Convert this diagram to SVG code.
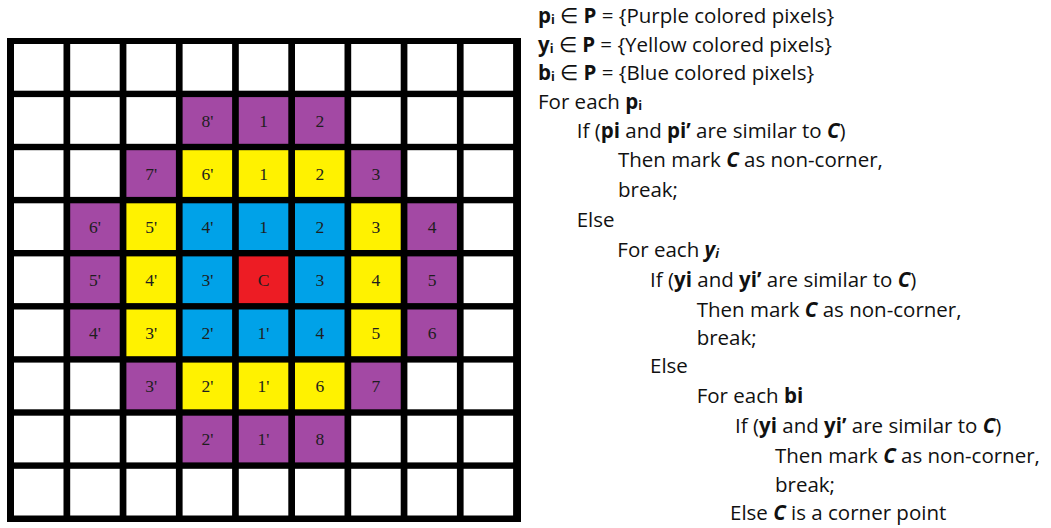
<svg xmlns="http://www.w3.org/2000/svg" width="1051" height="528" viewBox="0 0 1051 528">
<style>
.w{fill:#ffffff}
.p{fill:#a349a4}
.y{fill:#fff200}
.b{fill:#00a2e8}
.r{fill:#ed1c24}
.ct{font-family:"Liberation Serif","Times New Roman",serif;font-size:17.5px;fill:#1e1e1e;text-anchor:middle}
.tx{font-family:"Open Sans","Liberation Sans",sans-serif;font-size:20.5px;fill:#111111}
.bd{font-weight:bold}
.bi{font-weight:bold;font-style:italic}
.sub{font-size:12.5px;font-weight:bold}
</style>
<rect width="1051" height="528" fill="#ffffff"/>
<g id="grid">
<rect x="7" y="38" width="514" height="484" fill="#000000"/>
<g class="w">
<rect x="14" y="44" width="49.5" height="46.7"/><rect x="70.2" y="44" width="49.5" height="46.7"/><rect x="126.4" y="44" width="49.5" height="46.7"/><rect x="182.6" y="44" width="49.5" height="46.7"/><rect x="238.8" y="44" width="49.5" height="46.7"/><rect x="295" y="44" width="49.5" height="46.7"/><rect x="351.2" y="44" width="49.5" height="46.7"/><rect x="407.4" y="44" width="49.5" height="46.7"/><rect x="463.6" y="44" width="49.5" height="46.7"/>
<rect x="14" y="97.1" width="49.5" height="46.7"/><rect x="70.2" y="97.1" width="49.5" height="46.7"/><rect x="126.4" y="97.1" width="49.5" height="46.7"/><rect x="351.2" y="97.1" width="49.5" height="46.7"/><rect x="407.4" y="97.1" width="49.5" height="46.7"/><rect x="463.6" y="97.1" width="49.5" height="46.7"/>
<rect x="14" y="150.2" width="49.5" height="46.7"/><rect x="70.2" y="150.2" width="49.5" height="46.7"/><rect x="407.4" y="150.2" width="49.5" height="46.7"/><rect x="463.6" y="150.2" width="49.5" height="46.7"/>
<rect x="14" y="203.3" width="49.5" height="46.7"/><rect x="463.6" y="203.3" width="49.5" height="46.7"/>
<rect x="14" y="256.4" width="49.5" height="46.7"/><rect x="463.6" y="256.4" width="49.5" height="46.7"/>
<rect x="14" y="309.5" width="49.5" height="46.7"/><rect x="463.6" y="309.5" width="49.5" height="46.7"/>
<rect x="14" y="362.6" width="49.5" height="46.7"/><rect x="70.2" y="362.6" width="49.5" height="46.7"/><rect x="407.4" y="362.6" width="49.5" height="46.7"/><rect x="463.6" y="362.6" width="49.5" height="46.7"/>
<rect x="14" y="415.7" width="49.5" height="46.7"/><rect x="70.2" y="415.7" width="49.5" height="46.7"/><rect x="126.4" y="415.7" width="49.5" height="46.7"/><rect x="351.2" y="415.7" width="49.5" height="46.7"/><rect x="407.4" y="415.7" width="49.5" height="46.7"/><rect x="463.6" y="415.7" width="49.5" height="46.7"/>
<rect x="14" y="468.8" width="49.5" height="46.7"/><rect x="70.2" y="468.8" width="49.5" height="46.7"/><rect x="126.4" y="468.8" width="49.5" height="46.7"/><rect x="182.6" y="468.8" width="49.5" height="46.7"/><rect x="238.8" y="468.8" width="49.5" height="46.7"/><rect x="295" y="468.8" width="49.5" height="46.7"/><rect x="351.2" y="468.8" width="49.5" height="46.7"/><rect x="407.4" y="468.8" width="49.5" height="46.7"/><rect x="463.6" y="468.8" width="49.5" height="46.7"/>
</g>
</g>
<g id="connectors"></g>
<g id="cell-r1c3"><rect class="p" x="182.6" y="97.1" width="49.5" height="46.7"/><text class="ct" x="207.35" y="126.5">8'</text></g>
<g id="cell-r1c4"><rect class="p" x="238.8" y="97.1" width="49.5" height="46.7"/><text class="ct" x="263.55" y="126.5">1</text></g>
<g id="cell-r1c5"><rect class="p" x="295" y="97.1" width="49.5" height="46.7"/><text class="ct" x="319.75" y="126.5">2</text></g>
<g id="cell-r2c2"><rect class="p" x="126.4" y="150.2" width="49.5" height="46.7"/><text class="ct" x="151.15" y="179.6">7'</text></g>
<g id="cell-r2c3"><rect class="y" x="182.6" y="150.2" width="49.5" height="46.7"/><text class="ct" x="207.35" y="179.6">6'</text></g>
<g id="cell-r2c4"><rect class="y" x="238.8" y="150.2" width="49.5" height="46.7"/><text class="ct" x="263.55" y="179.6">1</text></g>
<g id="cell-r2c5"><rect class="y" x="295" y="150.2" width="49.5" height="46.7"/><text class="ct" x="319.75" y="179.6">2</text></g>
<g id="cell-r2c6"><rect class="p" x="351.2" y="150.2" width="49.5" height="46.7"/><text class="ct" x="375.95" y="179.6">3</text></g>
<g id="cell-r3c1"><rect class="p" x="70.2" y="203.3" width="49.5" height="46.7"/><text class="ct" x="94.95" y="232.7">6'</text></g>
<g id="cell-r3c2"><rect class="y" x="126.4" y="203.3" width="49.5" height="46.7"/><text class="ct" x="151.15" y="232.7">5'</text></g>
<g id="cell-r3c3"><rect class="b" x="182.6" y="203.3" width="49.5" height="46.7"/><text class="ct" x="207.35" y="232.7">4'</text></g>
<g id="cell-r3c4"><rect class="b" x="238.8" y="203.3" width="49.5" height="46.7"/><text class="ct" x="263.55" y="232.7">1</text></g>
<g id="cell-r3c5"><rect class="b" x="295" y="203.3" width="49.5" height="46.7"/><text class="ct" x="319.75" y="232.7">2</text></g>
<g id="cell-r3c6"><rect class="y" x="351.2" y="203.3" width="49.5" height="46.7"/><text class="ct" x="375.95" y="232.7">3</text></g>
<g id="cell-r3c7"><rect class="p" x="407.4" y="203.3" width="49.5" height="46.7"/><text class="ct" x="432.15" y="232.7">4</text></g>
<g id="cell-r4c1"><rect class="p" x="70.2" y="256.4" width="49.5" height="46.7"/><text class="ct" x="94.95" y="285.8">5'</text></g>
<g id="cell-r4c2"><rect class="y" x="126.4" y="256.4" width="49.5" height="46.7"/><text class="ct" x="151.15" y="285.8">4'</text></g>
<g id="cell-r4c3"><rect class="b" x="182.6" y="256.4" width="49.5" height="46.7"/><text class="ct" x="207.35" y="285.8">3'</text></g>
<g id="cell-C"><rect class="r" x="238.8" y="256.4" width="49.5" height="46.7"/><text class="ct" x="263.55" y="285.8">C</text></g>
<g id="cell-r4c5"><rect class="b" x="295" y="256.4" width="49.5" height="46.7"/><text class="ct" x="319.75" y="285.8">3</text></g>
<g id="cell-r4c6"><rect class="y" x="351.2" y="256.4" width="49.5" height="46.7"/><text class="ct" x="375.95" y="285.8">4</text></g>
<g id="cell-r4c7"><rect class="p" x="407.4" y="256.4" width="49.5" height="46.7"/><text class="ct" x="432.15" y="285.8">5</text></g>
<g id="cell-r5c1"><rect class="p" x="70.2" y="309.5" width="49.5" height="46.7"/><text class="ct" x="94.95" y="338.9">4'</text></g>
<g id="cell-r5c2"><rect class="y" x="126.4" y="309.5" width="49.5" height="46.7"/><text class="ct" x="151.15" y="338.9">3'</text></g>
<g id="cell-r5c3"><rect class="b" x="182.6" y="309.5" width="49.5" height="46.7"/><text class="ct" x="207.35" y="338.9">2'</text></g>
<g id="cell-r5c4"><rect class="b" x="238.8" y="309.5" width="49.5" height="46.7"/><text class="ct" x="263.55" y="338.9">1'</text></g>
<g id="cell-r5c5"><rect class="b" x="295" y="309.5" width="49.5" height="46.7"/><text class="ct" x="319.75" y="338.9">4</text></g>
<g id="cell-r5c6"><rect class="y" x="351.2" y="309.5" width="49.5" height="46.7"/><text class="ct" x="375.95" y="338.9">5</text></g>
<g id="cell-r5c7"><rect class="p" x="407.4" y="309.5" width="49.5" height="46.7"/><text class="ct" x="432.15" y="338.9">6</text></g>
<g id="cell-r6c2"><rect class="p" x="126.4" y="362.6" width="49.5" height="46.7"/><text class="ct" x="151.15" y="392">3'</text></g>
<g id="cell-r6c3"><rect class="y" x="182.6" y="362.6" width="49.5" height="46.7"/><text class="ct" x="207.35" y="392">2'</text></g>
<g id="cell-r6c4"><rect class="y" x="238.8" y="362.6" width="49.5" height="46.7"/><text class="ct" x="263.55" y="392">1'</text></g>
<g id="cell-r6c5"><rect class="y" x="295" y="362.6" width="49.5" height="46.7"/><text class="ct" x="319.75" y="392">6</text></g>
<g id="cell-r6c6"><rect class="p" x="351.2" y="362.6" width="49.5" height="46.7"/><text class="ct" x="375.95" y="392">7</text></g>
<g id="cell-r7c3"><rect class="p" x="182.6" y="415.7" width="49.5" height="46.7"/><text class="ct" x="207.35" y="445.1">2'</text></g>
<g id="cell-r7c4"><rect class="p" x="238.8" y="415.7" width="49.5" height="46.7"/><text class="ct" x="263.55" y="445.1">1'</text></g>
<g id="cell-r7c5"><rect class="p" x="295" y="415.7" width="49.5" height="46.7"/><text class="ct" x="319.75" y="445.1">8</text></g>
<g id="algorithm">
<text class="tx" x="538" y="23"><tspan class="bd">p</tspan><tspan class="sub" dy="1">i</tspan><tspan dy="-1"> ∈ </tspan><tspan class="bd">P</tspan> = {Purple colored pixels}</text>
<text class="tx" x="538" y="51.7"><tspan class="bd">y</tspan><tspan class="sub" dy="1">i</tspan><tspan dy="-1"> ∈ </tspan><tspan class="bd">P</tspan> = {Yellow colored pixels}</text>
<text class="tx" x="538" y="80.3"><tspan class="bd">b</tspan><tspan class="sub" dy="1">i</tspan><tspan dy="-1"> ∈ </tspan><tspan class="bd">P</tspan> = {Blue colored pixels}</text>
<text class="tx" x="538" y="109.3">For each <tspan class="bd">p</tspan><tspan class="sub" dy="1">i</tspan></text>
<text class="tx" x="576.7" y="138.3">If (<tspan class="bd">pi</tspan> and <tspan class="bd">pi’</tspan> are similar to <tspan class="bi">C</tspan>)</text>
<text class="tx" x="618" y="167">Then mark <tspan class="bi">C</tspan> as non-corner,</text>
<text class="tx" x="618" y="196.7">break;</text>
<text class="tx" x="576.7" y="227.3">Else</text>
<text class="tx" x="617.3" y="257.3">For each <tspan class="bi">y</tspan><tspan class="sub" font-style="italic" dy="1">i</tspan></text>
<text class="tx" x="650" y="286.7">If (<tspan class="bd">yi</tspan> and <tspan class="bd">yi’</tspan> are similar to <tspan class="bi">C</tspan>)</text>
<text class="tx" x="696.7" y="316.7">Then mark <tspan class="bi">C</tspan> as non-corner,</text>
<text class="tx" x="696.7" y="345">break;</text>
<text class="tx" x="650" y="373.3">Else</text>
<text class="tx" x="696.7" y="403.3">For each <tspan class="bd">bi</tspan></text>
<text class="tx" x="735" y="433.3">If (<tspan class="bd">yi</tspan> and <tspan class="bd">yi’</tspan> are similar to <tspan class="bi">C</tspan>)</text>
<text class="tx" x="775" y="462.7">Then mark <tspan class="bi">C</tspan> as non-corner,</text>
<text class="tx" x="775" y="491.7">break;</text>
<text class="tx" x="730" y="520">Else <tspan class="bi">C</tspan> is a corner point</text>
</g>
</svg>
